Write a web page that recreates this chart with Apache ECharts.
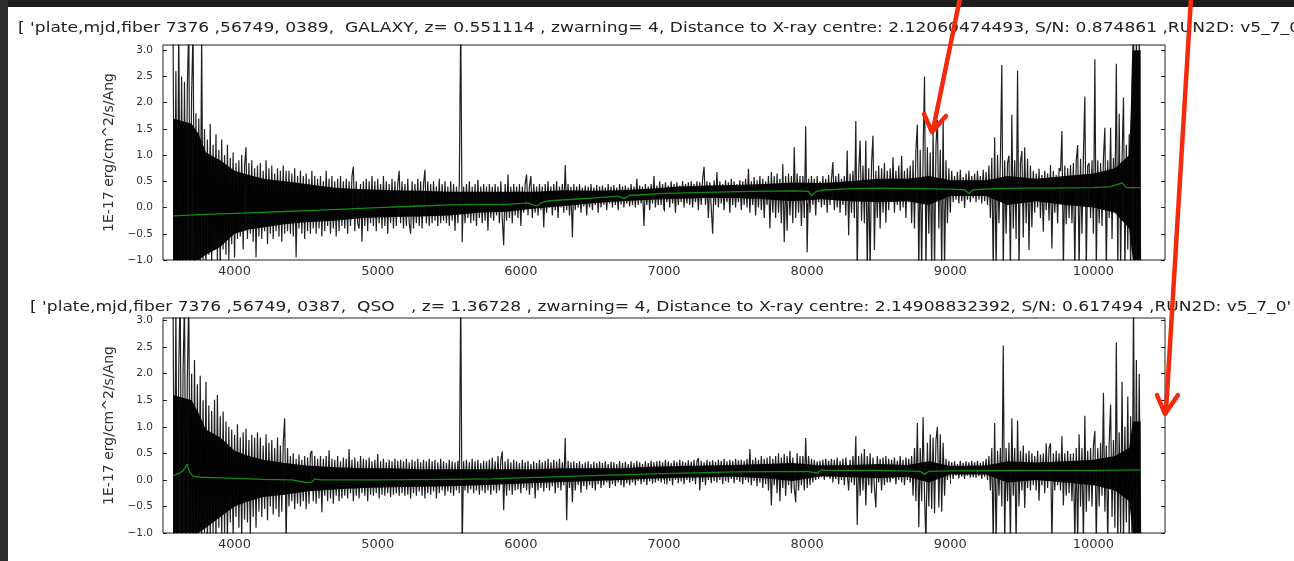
<!DOCTYPE html>
<html>
<head>
<meta charset="utf-8">
<script src="https://cdn.jsdelivr.net/npm/echarts@6/dist/echarts.min.js"></script>
<style>
html,body{margin:0;padding:0;background:#fff;}
#chart{width:1294px;height:561px;}
</style>
</head>
<body>
<div id="chart"></div>
<script>
// ---- data ----
const lamStart = 3570;   // first pixel wavelength (Angstrom)
const lamStep = 10;      // wavelength step between samples

// GALAXY spectrum (plate 7376, fiber 0389), flux in 1E-17 erg/cm^2/s/Ang
const fluxGalaxy = [
 3.5,-1.4,2.6,-1.3,3.6,-1.2,2.5,-1.4,2.4,-1.1,2.3,3.5,-1.3,2.2,3.4,-1.2,1.8,-1.0,1.7,-1.1,
 3.3,-1.0,1.5,-1.2,1.3,-0.9,1.6,-1.1,1.2,-0.8,1.4,-1.0,1.1,-1.2,1.3,-0.8,1.0,-0.9,1.2,-1.0,
 0.95,-0.7,1.05,-0.95,0.85,-0.6,0.9,-0.55,1.0,-0.8,0.8,1.15,-0.6,0.85,-0.5,0.9,-0.65,0.75,-0.95,0.8,
 -0.55,0.85,-0.6,0.7,-0.45,0.9,-0.7,0.75,-0.5,0.8,-0.6,0.65,-0.45,0.75,-0.55,0.7,-0.65,0.8,-0.5,0.7,
 -0.45,0.7,-0.5,0.65,-0.55,0.75,-0.95,0.6,-0.4,0.7,-0.5,0.6,-0.6,0.65,-0.45,0.55,-0.5,0.7,-0.4,0.6,
 -0.5,0.55,-0.4,0.6,-0.55,0.5,-0.45,0.7,-0.35,0.55,-0.5,0.6,-0.4,0.5,-0.55,0.55,-0.45,0.6,-0.35,0.5,
 -0.4,0.55,-0.5,0.5,-0.35,0.6,0.78,-0.45,0.5,-0.3,-0.4,0.45,-0.65,0.5,-0.35,0.55,-0.45,0.5,-0.3,0.6,
 -0.35,0.5,-0.45,0.55,-0.3,0.45,-0.4,0.6,-0.35,0.5,-0.5,0.45,-0.3,0.55,-0.4,0.5,-0.35,0.45,0.7,-0.3,
 0.5,-0.4,0.45,-0.35,0.55,-0.3,-0.5,0.5,-0.4,0.45,-0.3,0.55,-0.35,0.5,-0.4,0.45,0.72,-0.3,0.5,-0.35,
 0.45,-0.3,0.5,-0.25,0.4,-0.35,0.55,-0.3,0.45,-0.25,0.5,-0.3,0.4,-0.35,0.5,-0.25,0.45,-0.44,0.4,-0.3,
 0.45,3.6,-0.66,0.4,-0.3,0.45,-0.2,0.5,-0.3,0.4,-0.25,0.45,-0.35,0.53,-0.2,0.4,-0.3,0.45,-0.25,0.4,
 -0.44,0.45,-0.2,0.4,-0.25,0.45,-0.15,0.4,-0.3,0.5,-0.2,-0.72,0.45,-0.25,0.63,-0.2,0.4,-0.3,0.45,-0.15,
 0.4,-0.2,0.45,-0.35,0.4,-0.1,0.45,0.63,-0.15,0.4,0.6,-0.2,0.45,-0.1,0.4,-0.15,0.45,-0.05,0.4,-0.38,
 0.45,-0.1,0.5,0.0,0.4,-0.15,0.45,-0.05,0.5,-0.2,0.4,0.0,0.45,-0.1,0.81,-0.05,0.45,-0.15,0.4,-0.57,
 0.45,-0.05,0.4,0.0,0.45,-0.1,0.38,0.02,0.42,-0.15,0.4,0.0,0.45,-0.05,0.38,0.05,0.43,-0.1,0.4,0.0,
 0.42,0.05,0.38,-0.05,0.45,0.08,0.4,0.0,0.43,0.05,0.38,-0.05,0.45,0.06,0.4,0.0,0.42,0.08,0.38,0.02,
 0.45,0.05,0.4,0.0,0.55,0.05,0.42,0.08,0.4,-0.35,0.45,0.05,0.4,-0.05,0.45,0.08,0.6,0.0,0.42,0.05,
 0.5,0.05,0.45,-0.05,0.48,0.1,0.42,0.0,0.5,0.08,0.45,-0.1,0.48,0.05,0.42,0.1,0.5,0.0,0.45,0.08,
 0.48,0.05,0.5,0.0,0.45,0.1,0.5,-0.05,0.48,0.05,0.55,0.78,0.05,0.5,-0.2,0.48,0.0,-0.5,0.52,0.05,
 0.68,0.0,0.5,0.08,0.45,-0.05,0.52,0.1,0.48,-0.1,0.55,0.05,0.5,0.0,0.45,0.1,0.52,-0.05,0.5,0.05,
 0.55,0.0,0.74,-0.1,0.5,0.05,0.58,-0.15,0.52,0.0,0.6,-0.05,0.55,-0.2,0.5,0.05,0.6,-0.4,0.68,-0.1,
 0.6,-0.2,0.65,-0.1,0.55,-0.3,0.83,-0.66,0.6,-0.44,0.65,-0.15,0.6,-0.3,1.15,-0.2,0.65,-0.1,0.6,-0.35,
 0.6,-0.2,1.55,-0.85,0.55,-0.1,0.6,0.05,0.55,-0.15,0.6,0.1,0.5,0.0,0.6,0.05,0.55,-0.1,0.62,0.05,
 0.55,0.87,-0.05,0.6,0.0,0.65,-0.1,0.55,0.05,0.6,-0.15,1.09,-0.53,0.65,-0.1,0.7,-0.2,1.65,-1.2,0.7,
 1.28,-0.25,0.8,-0.3,1.28,-1.2,0.75,-1.2,0.85,1.37,-0.81,0.7,-0.2,0.8,-0.4,0.75,-0.1,0.85,-0.29,0.7,
 -0.05,0.75,0.1,0.96,-0.1,0.7,0.05,0.8,-0.06,0.99,0.0,0.7,-0.2,0.75,0.1,0.8,-0.3,0.9,-0.4,1.1,
 1.58,-1.2,1.1,-1.2,1.0,2.5,-1.2,1.15,-0.5,1.05,-1.2,1.49,-1.2,1.2,1.67,-0.4,1.1,-1.2,1.71,-1.2,
 0.9,-0.3,0.75,-0.1,0.7,0.1,0.6,0.15,0.68,0.08,0.72,0.12,0.58,-0.01,0.65,0.15,0.7,0.1,0.6,0.18,
 0.65,0.1,0.7,0.15,0.6,0.08,0.72,0.12,0.68,0.05,0.8,-0.2,0.95,-1.2,1.34,-1.2,1.0,-0.3,0.9,2.72,
 -1.2,0.9,-0.5,0.85,0.99,-1.2,1.77,-0.4,0.9,-0.6,2.61,-1.2,0.85,1.08,-0.57,1.15,-0.3,0.93,-0.81,0.8,
 -0.38,0.7,-0.1,0.65,0.0,0.74,-0.2,0.62,-0.46,0.7,-0.05,0.65,-0.25,0.81,-0.78,0.7,-0.1,0.62,-0.3,0.75,
 0.7,1.46,-1.2,0.8,-0.32,0.75,-0.2,0.81,-0.3,0.85,-1.2,0.9,1.19,-1.2,0.93,-0.5,1.0,2.12,-1.2,0.8,
 0.85,-0.2,0.9,-0.5,2.83,-1.2,0.9,-0.3,0.85,-0.35,0.95,1.52,-1.2,0.9,-0.2,1.52,-0.6,0.95,0.0,2.74,
 -1.2,1.79,-1.2,0.95,2.1,-1.2,1.2,-0.8,1.4,-1.2,2.5,3.5,-1.5,3.5,-1.5,3.4,-1.4
];

// QSO spectrum (plate 7376, fiber 0387)
const fluxQso = [
 3.5,-1.4,3.3,-1.3,2.1,3.6,-1.2,2.0,3.4,-1.3,1.9,3.5,-1.1,2.0,-1.4,2.26,-1.2,1.8,-1.0,1.96,
 -1.2,1.5,-1.0,1.85,-1.3,1.4,-1.1,1.3,-1.0,1.51,-1.2,1.6,-0.9,1.2,-1.1,1.29,-1.0,1.1,-1.2,1.0,
 -0.8,0.95,-1.1,0.85,-0.7,1.05,-0.9,0.8,-1.1,0.9,-0.75,0.97,-0.8,0.75,-1.05,0.85,-0.7,0.8,-0.9,0.9,
 -0.6,0.8,-0.7,0.65,-0.55,0.86,-0.76,0.7,-0.5,0.75,-0.65,0.6,-0.55,0.8,-0.7,0.65,-0.6,0.7,1.16,-1.2,
 0.6,-0.5,0.45,-0.4,0.5,-0.55,0.4,-0.45,0.48,-0.5,0.38,-0.4,0.45,-0.55,0.42,-0.45,0.5,0.55,-0.4,0.45,
 -0.45,0.4,-0.35,0.45,-0.61,0.4,-0.3,0.45,-0.4,0.56,-0.35,0.4,-0.45,0.38,-0.3,0.45,-0.4,0.35,-0.35,0.42,
 -0.3,0.4,-0.35,0.58,-0.25,0.38,-0.4,0.42,-0.3,0.35,-0.35,0.45,-0.25,0.4,-0.3,0.38,-0.4,0.42,-0.28,0.35,
 -0.3,0.38,-0.25,0.49,-0.35,0.35,-0.28,0.4,-0.3,0.33,-0.25,0.38,-0.32,0.35,-0.28,0.4,-0.25,0.36,-0.3,0.38,
 -0.25,0.35,-0.3,0.4,-0.28,0.33,-0.35,0.38,-0.25,0.35,-0.3,0.4,-0.22,0.33,-0.3,0.38,-0.35,0.35,-0.25,0.4,
 -0.28,0.35,-0.22,0.38,-0.35,0.33,-0.25,0.4,-0.2,0.35,-0.3,0.32,-0.22,0.38,-0.25,0.35,-0.3,0.33,-0.2,0.36,
 -0.25,3.6,-1.3,0.35,-0.2,0.38,-0.25,0.33,-0.18,0.4,-0.25,0.35,-0.2,0.38,-0.28,0.32,-0.2,0.36,-0.25,0.35,
 -0.2,0.38,-0.28,0.42,-0.2,0.35,-0.25,0.45,-0.2,0.38,0.54,-0.57,0.35,-0.3,0.4,-0.2,0.33,-0.28,0.38,-0.2,
 0.35,-0.18,0.32,-0.25,0.38,-0.15,0.33,-0.2,0.36,-0.28,0.3,-0.15,0.35,-0.35,0.32,-0.2,0.38,-0.15,0.33,-0.22,
 0.36,-0.15,0.4,-0.2,0.33,-0.12,0.38,-0.25,0.35,-0.15,0.4,-0.2,0.33,-0.1,0.79,-0.76,0.36,-0.15,0.33,-0.42,
 0.35,-0.2,0.32,-0.1,0.35,-0.24,0.3,-0.12,0.33,-0.18,0.35,-0.1,0.3,-0.15,0.34,-0.2,0.32,-0.08,0.35,-0.15,
 0.32,-0.1,0.35,-0.05,0.3,-0.15,0.34,-0.08,0.33,-0.12,0.3,-0.05,0.35,-0.1,0.32,-0.14,0.34,-0.06,0.3,-0.1,
 0.35,-0.05,0.32,-0.1,0.36,-0.02,0.33,-0.08,0.3,-0.04,0.35,-0.1,0.32,-0.03,0.36,-0.07,0.33,-0.05,0.35,-0.02,
 0.36,-0.05,0.33,0.0,0.38,-0.08,0.35,-0.02,0.32,-0.1,0.37,0.0,0.34,-0.06,0.38,-0.03,0.35,-0.08,0.33,0.0,
 0.37,-0.05,0.34,-0.02,0.38,-0.08,0.35,0.41,-0.2,0.36,-0.04,0.33,-0.1,0.38,0.0,0.35,-0.06,0.37,-0.02,0.34,
 -0.05,0.38,0.0,0.36,-0.08,0.4,-0.02,0.35,-0.05,0.38,0.02,0.36,-0.06,0.4,0.0,0.37,-0.04,0.38,-0.08,0.36,
 0.0,0.4,-0.05,0.58,-0.1,0.38,-0.02,0.42,-0.12,0.38,-0.05,0.45,-0.15,0.4,-0.08,0.42,-0.2,0.45,-0.48,0.4,
 -0.1,0.45,-0.25,0.5,-0.4,0.42,-0.15,0.49,-0.3,0.45,-0.1,0.55,-0.25,0.42,-0.15,-0.42,0.5,-0.2,0.45,-0.1,
 0.45,-0.2,0.79,-0.15,0.45,-0.1,0.4,-0.05,0.38,0.0,0.35,0.02,0.36,0.05,0.38,0.0,0.4,0.05,0.36,0.02,
 0.4,-0.05,0.38,0.02,0.42,-0.08,0.36,0.0,0.4,-0.1,0.42,0.45,-0.2,0.38,-0.05,0.45,-0.1,0.82,-0.85,0.45,
 -0.3,0.5,-0.2,0.58,-0.48,0.45,-0.1,0.5,-0.25,0.42,-0.15,-0.52,0.45,-0.05,0.4,-0.2,0.42,-0.1,0.45,-0.05,
 0.4,-0.05,0.38,0.02,0.42,-0.08,0.36,0.0,0.45,-0.05,0.38,-0.1,0.42,0.0,0.4,-0.05,0.45,-0.3,0.6,-0.4,
 1.07,-0.89,0.6,-0.4,1.18,-0.3,-1.2,0.7,-0.5,0.86,-0.55,0.8,-0.63,0.75,1.0,-0.52,0.86,-0.6,0.7,-0.3,
 0.4,0.0,0.36,0.05,0.33,0.02,0.35,0.08,0.3,0.03,0.36,0.06,0.32,0.02,0.35,0.08,0.33,0.04,0.36,0.05,
 0.33,0.04,0.36,0.07,0.32,0.02,0.35,0.06,0.4,0.0,0.45,-0.2,0.6,-1.2,1.07,-1.2,0.55,-0.3,0.6,-0.5,
 2.53,-1.2,0.6,-0.4,0.7,-1.2,1.16,-0.3,0.6,-1.2,1.12,-0.5,0.55,-0.2,0.65,-0.53,0.5,-0.15,0.55,-0.2,
 0.5,-0.1,0.45,-0.2,0.55,-0.39,0.48,-0.1,0.5,-0.25,0.69,-0.15,0.6,0.69,-1.2,0.5,-0.2,0.55,-0.1,0.5,
 -0.2,0.82,-0.48,0.5,-0.3,0.55,-0.25,0.49,-0.4,0.5,-1.2,0.6,-1.2,0.86,-0.5,0.6,-1.2,1.21,-0.6,0.55,
 -0.4,0.6,-0.5,0.65,0.92,-1.2,0.6,-0.5,0.7,-0.3,1.64,-0.6,0.65,-1.2,0.7,1.42,-0.7,0.75,-0.9,2.59,
 -1.2,0.9,-1.0,1.85,-1.2,1.0,-0.8,1.57,-1.2,1.2,-1.3,3.5,-1.4,2.26,-1.3,2.0,-1.2
];

// dense (solid black) core of each noisy spectrum: lower / upper edge
const coreWave = [3570,3700,3750,3800,3900,4000,4100,4200,4350,4500,4700,4900,5100,5300,5500,5700,5900,6100,6300,6500,6700,6900,7100,7300,7500,7700,7900,8100,8300,8500,8700,8850,9000,9250,9400,9600,9800,10000,10150,10250,10275,10330];
const coreGalaxyLo = [-1.0,-1.0,-1.0,-0.9,-0.75,-0.5,-0.42,-0.38,-0.32,-0.28,-0.25,-0.2,-0.18,-0.17,-0.15,-0.1,-0.08,-0.02,0.03,0.08,0.12,0.15,0.17,0.18,0.18,0.16,0.12,0.16,0.12,0.1,0.12,0.05,0.22,0.22,0.05,0.12,0.05,0.0,-0.1,-0.4,-1.0,-1.0];
const coreGalaxyHi = [1.7,1.6,1.4,1.05,0.9,0.7,0.62,0.55,0.5,0.45,0.38,0.35,0.33,0.32,0.3,0.3,0.3,0.3,0.33,0.32,0.33,0.36,0.4,0.42,0.43,0.45,0.48,0.47,0.5,0.55,0.55,0.6,0.52,0.52,0.6,0.55,0.6,0.65,0.75,1.0,3.0,3.0];
const coreQsoLo = [-1.0,-1.0,-1.0,-0.9,-0.7,-0.5,-0.4,-0.32,-0.28,-0.22,-0.18,-0.15,-0.14,-0.13,-0.12,-0.1,-0.08,-0.06,-0.04,-0.02,0.0,0.02,0.04,0.05,0.06,0.03,-0.02,0.07,0.05,0.03,0.06,-0.05,0.1,0.1,-0.05,0.0,-0.05,-0.1,-0.2,-0.4,-1.0,-1.0];
const coreQsoHi = [1.6,1.5,1.25,0.95,0.8,0.55,0.45,0.38,0.32,0.27,0.24,0.22,0.22,0.2,0.2,0.2,0.2,0.2,0.22,0.22,0.22,0.25,0.26,0.27,0.28,0.3,0.32,0.27,0.28,0.3,0.28,0.35,0.26,0.27,0.35,0.33,0.35,0.38,0.45,0.6,1.1,1.1];

// best-fit model (green) knots
const modelGalaxyWave = [3570,3800,4000,4300,4600,5000,5300,5500,5700,5900,6050,6110,6150,6200,6500,6680,6720,6760,7000,7300,7600,7900,8010,8030,8060,8100,8300,8500,8800,9000,9100,9130,9160,9300,9500,9700,10000,10120,10180,10200,10230,10330];
const modelGalaxyFlux = [-0.16,-0.13,-0.11,-0.08,-0.05,0.0,0.03,0.05,0.06,0.06,0.09,0.03,0.1,0.13,0.18,0.22,0.17,0.23,0.27,0.29,0.31,0.32,0.31,0.22,0.3,0.33,0.36,0.37,0.36,0.35,0.34,0.27,0.34,0.36,0.37,0.37,0.38,0.4,0.45,0.47,0.38,0.38];
const modelQsoWave = [3570,3610,3640,3660,3668,3685,3710,3760,3900,4000,4200,4400,4460,4500,4540,4560,4600,5000,5500,5800,6000,6500,7000,7500,8000,8070,8100,8130,8500,8790,8820,8850,9000,9500,10000,10330];
const modelQsoFlux = [0.08,0.12,0.17,0.26,0.3,0.15,0.07,0.05,0.04,0.03,0.01,0.0,-0.03,-0.05,-0.04,0.02,0.0,0.0,0.01,0.02,0.04,0.08,0.12,0.15,0.16,0.13,0.19,0.18,0.18,0.16,0.11,0.16,0.17,0.18,0.18,0.19];

const xTicks = [4000,5000,6000,7000,8000,9000,10000];
const yTicks = [-1,-0.5,0,0.5,1,1.5,2,2.5,3];
const titles = [
 "[ 'plate,mjd,fiber 7376 ,56749, 0389,  GALAXY, z= 0.551114 , zwarning= 4, Distance to X-ray centre: 2.12060474493, S/N: 0.874861 ,RUN2D: v5_7_0' ]",
 "[ 'plate,mjd,fiber 7376 ,56749, 0387,  QSO   , z= 1.36728 , zwarning= 4, Distance to X-ray centre: 2.14908832392, S/N: 0.617494 ,RUN2D: v5_7_0' ]"
];
const yName = '1E-17 erg/cm^2/s/Ang';

// ---- chart ----
const FONT = '"DejaVu Sans", Verdana, sans-serif';
const axisCol = '#222';
const grids = [
  {left:163, top:45, width:1002, height:215, ymax:3.1},
  {left:163, top:318, width:1002, height:215, ymax:3.05}
];
const yFmt = v => (v < 0 ? '\u2212' : '') + Math.abs(v).toFixed(1);
const xFmt = v => String(Math.round(v));

const xAxis = [], yAxis = [];
grids.forEach((g, gi) => {
  ['bottom','top'].forEach(pos => {
    xAxis.push({
      type:'value', gridIndex:gi, position:pos, min:3500, max:10500,
      axisLine:{show:false}, splitLine:{show:false},
      axisTick:{show:true, inside:true, length:4, customValues:xTicks, lineStyle:{color:axisCol, width:1}},
      axisLabel: pos === 'bottom'
        ? {show:true, customValues:xTicks, formatter:xFmt, margin:5, fontSize:13, fontFamily:FONT, color:'#333'}
        : {show:false}
    });
  });
  ['left','right'].forEach(pos => {
    yAxis.push({
      type:'value', gridIndex:gi, position:pos, min:-1, max:g.ymax,
      axisLine:{show:false}, splitLine:{show:false},
      axisTick:{show:true, inside:true, length:4, customValues:yTicks, lineStyle:{color:axisCol, width:1}},
      axisLabel: pos === 'left'
        ? {show:true, customValues:yTicks, margin:10, fontSize:10.5, fontFamily:FONT, color:'#333', formatter:yFmt}
        : {show:false},
      name: pos === 'left' ? yName : '',
      nameLocation:'middle', nameGap:44, nameRotate:90,
      nameTextStyle:{fontSize:14, fontFamily:FONT, color:'#333'}
    });
  });
});

function specData(arr){ return arr.map((v,i) => [lamStart + i*lamStep, v]); }
function pairData(w, f){ return w.map((x,i) => [x, f[i]]); }

// solid core band drawn as one polygon through the axis scales
function coreBand(xi, yi, lo, hi){
  return {
    type:'custom', xAxisIndex:xi, yAxisIndex:yi, silent:true, clip:true, z:1,
    data:[[coreWave[0], lo[0]]],
    renderItem: function(params, api){
      const pts = [];
      for (let i = 0; i < coreWave.length; i++) pts.push(api.coord([coreWave[i], hi[i]]));
      for (let i = coreWave.length - 1; i >= 0; i--) pts.push(api.coord([coreWave[i], lo[i]]));
      return {type:'polygon', shape:{points:pts}, style:{fill:'#0a0a0a'}};
    }
  };
}

function panelSeries(xi, yi, flux, lo, hi, mw, mf){
  return [
    coreBand(xi, yi, lo, hi),
    {type:'line', xAxisIndex:xi, yAxisIndex:yi, data:specData(flux), symbol:'none', clip:true, silent:true,
     lineStyle:{color:'#000', width:1.2, opacity:0.88}, z:2},
    {type:'line', xAxisIndex:xi, yAxisIndex:yi, data:pairData(mw, mf), symbol:'none', clip:true, silent:true,
     lineStyle:{color:'#0f8c0f', width:1.3}, z:3}
  ];
}

const series = [].concat(
  panelSeries(0, 0, fluxGalaxy, coreGalaxyLo, coreGalaxyHi, modelGalaxyWave, modelGalaxyFlux),
  panelSeries(2, 2, fluxQso, coreQsoLo, coreQsoHi, modelQsoWave, modelQsoFlux)
);

const red = '#f42a0c';
const graphic = [
  {type:'rect', z:100, shape:{x:0, y:0, width:1294, height:7}, style:{fill:'#1d1d1d'}},
  {type:'rect', z:100, shape:{x:0, y:0, width:8, height:561}, style:{fill:'#2b2b2b'}},
  {type:'text', z:50, x:18, y:28.5, scaleX:1.22, style:{text:titles[0], font:'14px ' + FONT, fill:'#222', verticalAlign:'middle', align:'left'}},
  {type:'text', z:50, x:30, y:307, scaleX:1.22, style:{text:titles[1], font:'14px ' + FONT, fill:'#222', verticalAlign:'middle', align:'left'}},
  {type:'polyline', z:120, shape:{points:[[960,-2],[933,130]]}, style:{stroke:red, lineWidth:4.5, lineCap:'round', fill:null}},
  {type:'polyline', z:120, shape:{points:[[924,114],[932,132],[946,116]]}, style:{stroke:red, lineWidth:4.5, lineCap:'round', lineJoin:'round', fill:null}},
  {type:'polyline', z:120, shape:{points:[[1191,-2],[1166,411]]}, style:{stroke:red, lineWidth:4.5, lineCap:'round', fill:null}},
  {type:'polyline', z:120, shape:{points:[[1157,395],[1165,414],[1178,395]]}, style:{stroke:red, lineWidth:4.5, lineCap:'round', lineJoin:'round', fill:null}}
];

const chart = echarts.init(document.getElementById('chart'), null, {renderer:'canvas', width:1294, height:561});
chart.setOption({
  backgroundColor:'#ffffff',
  animation:false,
  grid: grids.map(g => ({left:g.left, top:g.top, width:g.width, height:g.height, show:true, borderColor:axisCol, borderWidth:1, backgroundColor:'transparent', containLabel:false})),
  xAxis, yAxis, series, graphic
});
</script>
</body>
</html>
